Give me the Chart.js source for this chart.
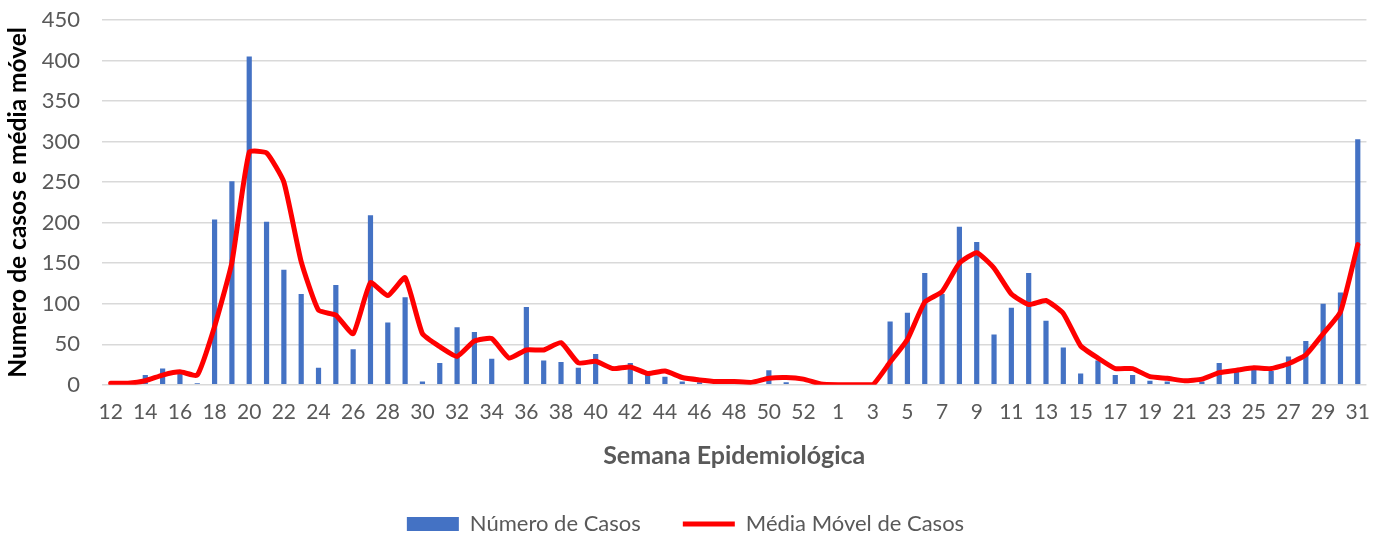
<!DOCTYPE html>
<html>
<head>
<meta charset="utf-8">
<script src="https://cdn.jsdelivr.net/npm/chart.js@4.4.1/dist/chart.umd.min.js"></script>
<style>
html,body{margin:0;padding:0;background:#fff;}
#wrap{width:1377px;height:535px;}
</style>
</head>
<body>
<div id="wrap"><canvas id="c" width="1377" height="535"></canvas></div>
<script>
const semanas = ['12','13','14','15','16','17','18','19','20','21','22','23','24','25','26','27','28','29','30','31','32','33','34','35','36','37','38','39','40','41','42','43','44','45','46','47','48','49','50','51','52','53',
  '1','2','3','4','5','6','7','8','9','10','11','12','13','14','15','16','17','18','19','20','21','22','23','24','25','26','27','28','29','30','31'];
const numeroCasos = [1,2,12,20,14,2,204,251,405,201,142,112,21,123,44,209,77,108,4,27,71,65,32,0,96,30,28,21,38,0,27,12,10,4,3,4,4,2,18,3,0,0,
  0,0,0,78,89,138,112,195,176,62,95,138,79,46,14,30,12,12,5,4,1,4,27,17,21,17,35,54,100,114,303];
const mediaMovel = [2,2,5,12,16,12,72,151,287,286,250,152,92,86,63,126,110,132,63,47,35,54,57,33,43,43,52,27,29,20,22,14,17,9,6,4,4,3,8,9,7,1,
  0,0,0,28,56,102,115,150,163,144,112,99,104,88,48,33,20,20,10,8,5,7,15,18,21,20,26,37,63,90,173];
const yTicks = [0,50,100,150,200,250,300,350,400,450];

const FONT = 'Lato, "Open Sans", sans-serif';
const GRAY = '#595959';

new Chart(document.getElementById('c'), {
  data: {
    labels: semanas,
    datasets: [
      {
        type: 'bar',
        label: 'Número de Casos',
        data: numeroCasos,
        backgroundColor: '#4472C4',
        barPercentage: 0.3,
        categoryPercentage: 1,
        order: 2
      },
      {
        type: 'line',
        label: 'Média Móvel de Casos',
        data: mediaMovel,
        borderColor: '#FF0000',
        backgroundColor: '#FF0000',
        borderWidth: 5,
        pointRadius: 0,
        tension: 0.15,
        borderJoinStyle: 'round',
        borderCapStyle: 'round',
        order: 1
      }
    ]
  },
  options: {
    responsive: false,
    animation: false,
    layout: { padding: { top: 20, right: 6, left: 0, bottom: -10 } },
    plugins: {
      tooltip: { enabled: false },
      legend: {
        position: 'bottom',
        labels: {
          font: { family: FONT, size: 22 },
          color: GRAY,
          padding: 42,
          usePointStyle: true,
          generateLabels(chart) {
            return chart.data.datasets.map((ds, i) => ({
              text: ds.label,
              fillStyle: ds.type === 'bar' ? '#4472C4' : '#FF0000',
              strokeStyle: ds.type === 'bar' ? '#4472C4' : '#FF0000',
              lineWidth: ds.type === 'bar' ? 0 : 5,
              pointStyle: ds.type === 'bar' ? 'rect' : 'line',
              fontColor: GRAY,
              datasetIndex: i,
              hidden: false
            }));
          },
          pointStyleWidth: 52,
          boxHeight: 14
        }
      }
    },
    scales: {
      x: {
        grid: { display: false },
        border: { display: false },
        ticks: {
          autoSkip: false,
          maxRotation: 0,
          font: { family: FONT, size: 21 },
          color: GRAY,
          padding: 7,
          callback: function(v, i) { return i % 2 === 0 ? semanas[i] : ''; }
        },
        title: {
          display: true,
          text: 'Semana Epidemiológica',
          font: { family: FONT, size: 25, weight: 'bold' },
          color: GRAY,
          padding: { top: 9, bottom: 0 }
        }
      },
      y: {
        min: 0,
        max: 450,
        afterBuildTicks(axis) { axis.ticks = yTicks.map(v => ({ value: v })); },
        afterFit(axis) { axis.width = 102; axis.paddingTop = 0; axis.paddingBottom = 0; },
        grid: { color: '#d9d9d9', lineWidth: 1.5, drawTicks: false },
        border: { display: false },
        ticks: {
          font: { family: FONT, size: 22 },
          color: GRAY,
          padding: 22
        },
        title: {
          display: true,
          text: 'Numero de casos e média móvel',
          font: { family: FONT, size: 24.5, weight: 'bold' },
          color: '#000000',
          padding: { top: 3, bottom: 0 }
        }
      }
    }
  }
});
</script>
</body>
</html>
